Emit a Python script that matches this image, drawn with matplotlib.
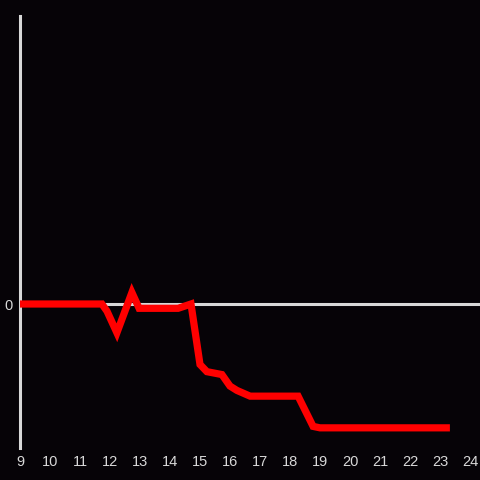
import matplotlib
matplotlib.use("Agg")
import matplotlib.pyplot as plt

# data
x_vals = [9.0, 11.73, 11.9, 12.23, 12.73, 12.97, 14.27, 14.7, 15.0, 15.23, 15.73,
          16.0, 16.23, 16.67, 18.27, 18.77, 19.0, 23.33]
y_vals = [0.0, 0.0, -0.05, -0.2, 0.08, -0.03, -0.03, 0.0, -0.42, -0.47, -0.49,
          -0.57, -0.6, -0.64, -0.64, -0.85, -0.86, -0.86]
x_ticks = list(range(9, 25))
y_ticks = [0]

bg = "#060307"
fg = "#d8d8d8"

fig = plt.figure(figsize=(4.8, 4.8), dpi=100, facecolor=bg)
ax = fig.add_axes([20/480, 32/480, 460/480, 432/480], facecolor=bg)

ax.axhline(0, color=fg, lw=2.2, zorder=1)
ax.plot(x_vals, y_vals, color="#ff0000", lw=5.2, solid_joinstyle="miter",
        solid_capstyle="butt", zorder=3)

ax.set_xlim(9, 9 + 460/30)
ax.set_ylim(-1, 2)
ax.set_xticks(x_ticks)
ax.set_xticklabels([str(t) for t in x_ticks])
ax.set_yticks(y_ticks)
ax.set_yticklabels(["0"])
ax.tick_params(length=0, colors=fg, labelsize=10.5, pad=5)
for lab in ax.get_xticklabels() + ax.get_yticklabels():
    lab.set_family("Liberation Sans")

for s in ["top", "right", "bottom"]:
    ax.spines[s].set_visible(False)
ax.spines["left"].set_color(fg)
ax.spines["left"].set_linewidth(2.2)

fig.savefig("out.png", dpi=100, facecolor=bg)
